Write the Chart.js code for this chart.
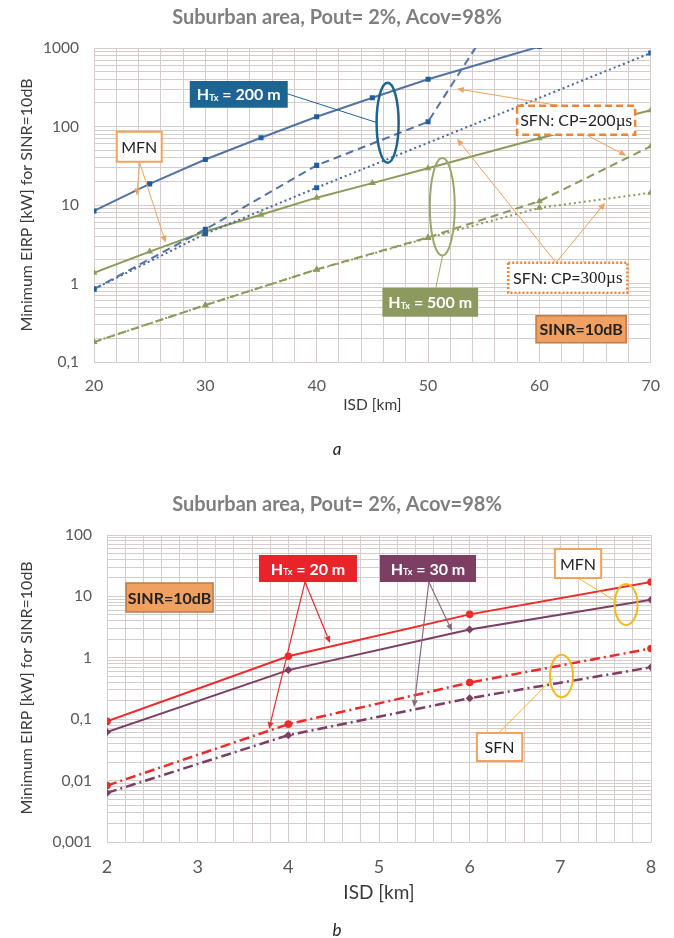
<!DOCTYPE html>
<html lang="en">
<head>
<meta charset="UTF-8">
<title>Minimum EIRP vs ISD - suburban area</title>
<script src="https://cdn.jsdelivr.net/npm/chart.js@4.4.0/dist/chart.umd.min.js"></script>
<style>
  body { margin: 0; background: #fff; }
  .wrap { position: absolute; left: 0; width: 674px; height: 470px; }
</style>
</head>
<body>
<div class="wrap" style="top:0"><canvas id="chartA" width="674" height="470"></canvas></div>
<div class="wrap" style="top:468px"><canvas id="chartB" width="674" height="470"></canvas></div>
<script>
// ---- chart a: HTx = 200 m / 500 m, ISD 20..70 km
const isdMfn200 = [20, 25, 30, 35, 40, 45, 50, 60];
const eirpMfn200 = [8.4, 18.6, 38, 72, 133, 232, 400, 1043];
const isdCp200_200 = [20, 30, 40, 50, 60];
const eirpCp200_200 = [0.85, 4.9, 32, 115, 18600];
const isdCp300_200 = [20, 30, 40, 70];
const eirpCp300_200 = [0.85, 4.3, 16.6, 864];
const isdMfn500 = [20, 25, 30, 35, 40, 45, 50, 60, 70];
const eirpMfn500 = [1.37, 2.55, 4.6, 7.5, 12.4, 19, 29.4, 71, 161];
const isdSfn500 = [20, 30, 40, 50, 60, 70];
const eirpCp200_500 = [0.18, 0.53, 1.51, 3.87, 11.2, 56];
const eirpCp300_500 = [0.18, 0.53, 1.5, 3.8, 9.2, 14.3];
const decadesA = [0.1, 1, 10, 100, 1000];

// ---- chart b: HTx = 20 m / 30 m, ISD 2..8 km
const isdB = [2, 4, 6, 8];
const eirpMfn20 = [0.092, 1.06, 5.1, 17.2];
const eirpMfn30 = [0.062, 0.63, 2.9, 8.8];
const eirpSfn20 = [0.0083, 0.083, 0.395, 1.42];
const eirpSfn30 = [0.0063, 0.055, 0.22, 0.70];
const decadesB = [0.001, 0.01, 0.1, 1, 10, 100];

const TITLE = 'Suburban area, Pout= 2%, Acov=98%';
const YTITLE = 'Minimum EIRP [kW] for SINR=10dB';
const FONT = 'Lato';

function zip(xs, ys) { return xs.map((x, i) => ({ x: x, y: ys[i] })); }

// every 1..9 x 10^n between the two decades, for the log grid
function logGrid(lo, hi) {
  const out = [];
  for (let n = Math.round(Math.log10(lo)); n < Math.round(Math.log10(hi)); n++) {
    for (let k = 1; k < 10; k++) out.push(Number((k * Math.pow(10, n)).toPrecision(3)));
  }
  out.push(hi);
  return out;
}
function fmtDec(v) { return String(v).replace('.', ','); }

// ---- drawing helpers for the callouts (coords: x in km, e = log10 of kW)
function helpers(chart) {
  const ctx = chart.ctx, sx = chart.scales.x, sy = chart.scales.y;
  const X = v => sx.getPixelForValue(v);
  const Y = e => sy.getPixelForValue(Math.pow(10, e));
  return {
    ctx, X, Y,
    box(x1, x2, e1, e2, fill, stroke, lw, dash) {
      ctx.save();
      ctx.beginPath();
      ctx.rect(X(x1), Y(e1), X(x2) - X(x1), Y(e2) - Y(e1));
      if (fill) { ctx.fillStyle = fill; ctx.fill(); }
      if (stroke) { ctx.strokeStyle = stroke; ctx.lineWidth = lw; ctx.setLineDash(dash || []); ctx.stroke(); }
      ctx.restore();
    },
    line(xa, ea, xb, eb, color, lw) {
      ctx.save();
      ctx.strokeStyle = color; ctx.lineWidth = lw;
      ctx.beginPath(); ctx.moveTo(X(xa), Y(ea)); ctx.lineTo(X(xb), Y(eb)); ctx.stroke();
      ctx.restore();
    },
    arrow(xa, ea, xb, eb, color, lw) {
      const x0 = X(xa), y0 = Y(ea), x1 = X(xb), y1 = Y(eb);
      const a = Math.atan2(y1 - y0, x1 - x0), L = 7, W = 3;
      ctx.save();
      ctx.strokeStyle = color; ctx.fillStyle = color; ctx.lineWidth = lw;
      ctx.beginPath(); ctx.moveTo(x0, y0); ctx.lineTo(x1 - L * Math.cos(a), y1 - L * Math.sin(a)); ctx.stroke();
      ctx.beginPath();
      ctx.moveTo(x1, y1);
      ctx.lineTo(x1 - L * Math.cos(a) + W * Math.sin(a), y1 - L * Math.sin(a) - W * Math.cos(a));
      ctx.lineTo(x1 - L * Math.cos(a) - W * Math.sin(a), y1 - L * Math.sin(a) + W * Math.cos(a));
      ctx.closePath(); ctx.fill();
      ctx.restore();
    },
    ellipse(cx, ce, rxKm, rDec, color, lw) {
      const px = X(cx), py = Y(ce);
      ctx.save();
      ctx.strokeStyle = color; ctx.lineWidth = lw;
      ctx.beginPath();
      ctx.ellipse(px, py, Math.abs(X(cx + rxKm) - px), Math.abs(Y(ce + rDec) - py), 0, 0, Math.PI * 2);
      ctx.stroke();
      ctx.restore();
    },
    // list of [text, font, dy] runs centred in a box
    runs(x1, x2, e1, e2, parts, color) {
      const cx = (X(x1) + X(x2)) / 2, cy = (Y(e1) + Y(e2)) / 2 + 1;
      ctx.save();
      ctx.fillStyle = color; ctx.textBaseline = 'middle'; ctx.textAlign = 'left';
      let w = 0;
      parts.forEach(p => { ctx.font = p[1]; w += ctx.measureText(p[0]).width; });
      let x = cx - w / 2;
      parts.forEach(p => { ctx.font = p[1]; ctx.fillText(p[0], x, cy + (p[2] || 0)); x += ctx.measureText(p[0]).width; });
      ctx.restore();
    }
  };
}

function htx(h, value) {
  return [['H', 'bold 16px ' + FONT, 0], ['Tx', 'bold 9px ' + FONT, 3], [' = ' + value + ' m', 'bold 16px ' + FONT, 0]];
}

function frameText(chart, f) {
  const ctx = chart.ctx;
  ctx.save();
  ctx.textAlign = 'center'; ctx.textBaseline = 'middle';
  ctx.fillStyle = '#7f7f7f';
  ctx.font = 'bold 20px ' + FONT;
  ctx.fillText(TITLE, 337, f.titleY);
  ctx.fillStyle = '#3a3a3a';
  ctx.font = f.xtSize + 'px ' + FONT;
  ctx.fillText('ISD [km]', (chart.chartArea.left + chart.chartArea.right) / 2, f.xtY);
  ctx.font = 'italic 17px ' + FONT;
  ctx.fillStyle = '#222';
  ctx.fillText(f.letter, 337, f.letterY);
  ctx.translate(27, f.ytY);
  ctx.rotate(-Math.PI / 2);
  ctx.fillStyle = '#3a3a3a';
  ctx.font = '16px ' + FONT;
  ctx.fillText(YTITLE, 0, 0);
  ctx.restore();
}

const decoPlugin = {
  id: 'deco',
  afterDraw(chart, args, opts) { if (opts.draw) opts.draw(chart); }
};

const gridColor = '#d6cccc';

function baseOptions(cfg) {
  return {
    responsive: false,
    animation: false,
    layout: { padding: { top: cfg.top, right: cfg.right, left: 0, bottom: 0 } },
    plugins: { legend: { display: false }, tooltip: { enabled: false }, deco: { draw: cfg.draw } },
    scales: {
      x: {
        type: 'linear', min: cfg.xmin, max: cfg.xmax,
        afterFit: s => { s.height = cfg.xh; },
        ticks: {
          stepSize: cfg.xstep, autoSkip: false, maxRotation: 0, padding: cfg.xpad,
          color: '#595959', font: { family: FONT, size: cfg.xfont },
          callback: v => Math.abs(v / cfg.xmajor - Math.round(v / cfg.xmajor)) < 1e-6 ? String(Math.round(v)) : ''
        },
        grid: { color: gridColor, drawTicks: false },
        border: { display: false }
      },
      y: {
        type: 'logarithmic', min: cfg.decades[0], max: cfg.decades[cfg.decades.length - 1],
        afterFit: s => { s.width = cfg.yw; },
        afterBuildTicks: s => { s.ticks = logGrid(s.min, s.max).map(v => ({ value: v })); },
        ticks: {
          autoSkip: false, padding: 15, color: '#595959', font: { family: FONT, size: 15.5 },
          callback: v => cfg.decades.includes(v) ? fmtDec(v) : ''
        },
        grid: { color: gridColor, drawTicks: false },
        border: { display: false }
      }
    }
  };
}

const blueLine = '#5373a5', blueMark = '#1f5f9f';
const greenLine = '#8c9b5c';

// ---------------- chart a
new Chart(document.getElementById('chartA'), {
  type: 'line',
  data: {
    datasets: [
      { data: zip(isdMfn200, eirpMfn200), borderColor: blueLine, borderWidth: 2, pointStyle: 'rect', pointRadius: 3.6, pointBackgroundColor: blueMark, pointBorderWidth: 0 },
      { data: zip(isdCp200_200, eirpCp200_200), borderColor: blueLine, borderWidth: 2, borderDash: [8, 5], pointStyle: 'rect', pointRadius: 3.6, pointBackgroundColor: blueMark, pointBorderWidth: 0 },
      { data: zip(isdCp300_200, eirpCp300_200), borderColor: '#4366a6', borderWidth: 2, borderDash: [2, 3], pointStyle: 'rect', pointRadius: 3.6, pointBackgroundColor: blueMark, pointBorderWidth: 0 },
      { data: zip(isdMfn500, eirpMfn500), borderColor: greenLine, borderWidth: 2, pointStyle: 'triangle', pointRadius: 4, pointBackgroundColor: greenLine, pointBorderWidth: 0 },
      { data: zip(isdSfn500, eirpCp200_500), borderColor: greenLine, borderWidth: 2, borderDash: [8, 5], pointStyle: 'triangle', pointRadius: 4, pointBackgroundColor: greenLine, pointBorderWidth: 0 },
      { data: zip(isdSfn500, eirpCp300_500), borderColor: greenLine, borderWidth: 2, borderDash: [2, 3], pointStyle: 'triangle', pointRadius: 4, pointBackgroundColor: greenLine, pointBorderWidth: 0 }
    ]
  },
  options: baseOptions({
    top: 48, right: 23, xh: 108, yw: 94, xmin: 20, xmax: 70, xstep: 2, xmajor: 10, xpad: 14, xfont: 16,
    decades: decadesA,
    draw: chart => {
      const h = helpers(chart), orange = '#f3a25c';
      // HTx = 200 m
      h.line(37.3, 2.42, 45.4, 2.05, '#1f6391', 1);
      h.ellipse(46.37, 2.048, 0.99, 0.51, '#1f6391', 2.5);
      h.box(28.6, 37.4, 2.58, 2.24, '#1c6592');
      h.runs(28.6, 37.4, 2.58, 2.24, htx('H', '200'), '#fff');
      // HTx = 500 m
      h.line(50.7, -0.054, 51.3, 0.35, '#9aa86a', 1);
      h.ellipse(51.28, 0.978, 1.12, 0.62, '#9aa86a', 2);
      h.box(45.9, 54.5, -0.054, -0.423, '#8c9a60');
      h.runs(45.9, 54.5, -0.054, -0.423, htx('H', '500'), '#fff');
      // MFN
      h.arrow(24.1, 1.54, 23.84, 1.12, orange, 1);
      h.arrow(24.1, 1.54, 26.44, 0.52, orange, 1);
      h.box(22.04, 26.08, 1.934, 1.552, '#fff', orange, 2);
      h.runs(22.04, 26.08, 1.934, 1.552, [['MFN', '16px ' + FONT]], '#222');
      // SFN CP=200
      h.arrow(61.8, 2.265, 52.6, 2.48, orange, 1);
      h.arrow(64.2, 1.895, 67.8, 1.628, orange, 1);
      h.box(58.0, 68.6, 2.265, 1.895, '#fff', '#ee8434', 2.5, [7, 4]);
      h.runs(58.0, 68.6, 2.265, 1.895, [['SFN: CP=200', '16px ' + FONT], ['\u00b5s', '17px "Liberation Serif"']], '#222');
      // SFN CP=300
      h.arrow(61.5, 0.265, 52.6, 1.843, orange, 1);
      h.arrow(61.5, 0.265, 65.9, 1.03, orange, 1);
      h.box(57.2, 67.9, 0.265, -0.117, '#fff', '#ee8434', 2.5, [2, 2]);
      h.runs(57.2, 67.9, 0.265, -0.117, [['SFN: CP=', '16px ' + FONT], ['300\u00b5s', '17px "Liberation Serif"']], '#222');
      // SINR
      h.box(59.7, 67.8, -0.41, -0.754, '#f0a060', '#bf7a45', 1.5);
      h.runs(59.7, 67.8, -0.41, -0.754, [['SINR=10dB', 'bold 16px ' + FONT]], '#222');
      frameText(chart, { titleY: 18, xtY: 405, xtSize: 15.5, letter: 'a', letterY: 450, ytY: 205 });
    }
  }),
  plugins: [decoPlugin]
});

// ---------------- chart b
const red = '#ee2a2a', purple = '#7c3e63';
new Chart(document.getElementById('chartB'), {
  type: 'line',
  data: {
    datasets: [
      { data: zip(isdB, eirpMfn20), borderColor: red, borderWidth: 2, pointStyle: 'circle', pointRadius: 3.8, pointBackgroundColor: red, pointBorderWidth: 0 },
      { data: zip(isdB, eirpMfn30), borderColor: purple, borderWidth: 2, pointStyle: 'rectRot', pointRadius: 4, pointBackgroundColor: purple, pointBorderWidth: 0 },
      { data: zip(isdB, eirpSfn20), borderColor: red, borderWidth: 2.5, borderDash: [10, 4, 2, 4], pointStyle: 'circle', pointRadius: 3.8, pointBackgroundColor: red, pointBorderWidth: 0 },
      { data: zip(isdB, eirpSfn30), borderColor: purple, borderWidth: 2.5, borderDash: [10, 4, 2, 4], pointStyle: 'rectRot', pointRadius: 4, pointBackgroundColor: purple, pointBorderWidth: 0 }
    ]
  },
  options: baseOptions({
    top: 67, right: 23, xh: 96, yw: 107, xmin: 2, xmax: 8, xstep: 0.2, xmajor: 1, xpad: 14, xfont: 18,
    decades: decadesB,
    draw: chart => {
      const h = helpers(chart), yellow = '#f5b820', orange = '#f3a25c';
      // HTx = 20 m
      h.arrow(4.184, 1.235, 3.787, -1.16, red, 1.2);
      h.arrow(4.184, 1.235, 4.46, 0.241, red, 1.2);
      h.box(3.676, 4.757, 1.674, 1.235, '#e8242a');
      h.runs(3.676, 4.757, 1.674, 1.235, htx('H', '20'), '#fff');
      // HTx = 30 m
      h.arrow(5.55, 1.235, 5.805, 0.437, '#8b6a80', 1.2);
      h.arrow(5.55, 1.235, 5.386, -0.801, '#8b6a80', 1.2);
      h.box(5.01, 6.07, 1.674, 1.235, purple);
      h.runs(5.01, 6.07, 1.674, 1.235, htx('H', '30'), '#fff');
      // MFN
      h.line(7.195, 1.30, 7.625, 0.909, yellow, 1);
      h.ellipse(7.725, 0.868, 0.127, 0.334, yellow, 2);
      h.box(6.94, 7.45, 1.772, 1.30, '#fff', orange, 2);
      h.runs(6.94, 7.45, 1.772, 1.30, [['MFN', '16px ' + FONT]], '#222');
      // SFN
      h.line(6.32, -1.225, 6.92, -0.33, yellow, 1);
      h.ellipse(7.013, -0.296, 0.127, 0.347, yellow, 2);
      h.box(6.08, 6.58, -1.225, -1.681, '#fff', orange, 2);
      h.runs(6.08, 6.58, -1.225, -1.681, [['SFN', '16px ' + FONT]], '#222');
      // SINR
      h.box(2.21, 3.17, 1.218, 0.746, '#f0a060', '#bf7a45', 1.5);
      h.runs(2.21, 3.17, 1.218, 0.746, [['SINR=10dB', 'bold 16px ' + FONT]], '#222');
      frameText(chart, { titleY: 37, xtY: 425, xtSize: 19, letter: 'b', letterY: 463, ytY: 220 });
    }
  }),
  plugins: [decoPlugin]
});
</script>
</body>
</html>
